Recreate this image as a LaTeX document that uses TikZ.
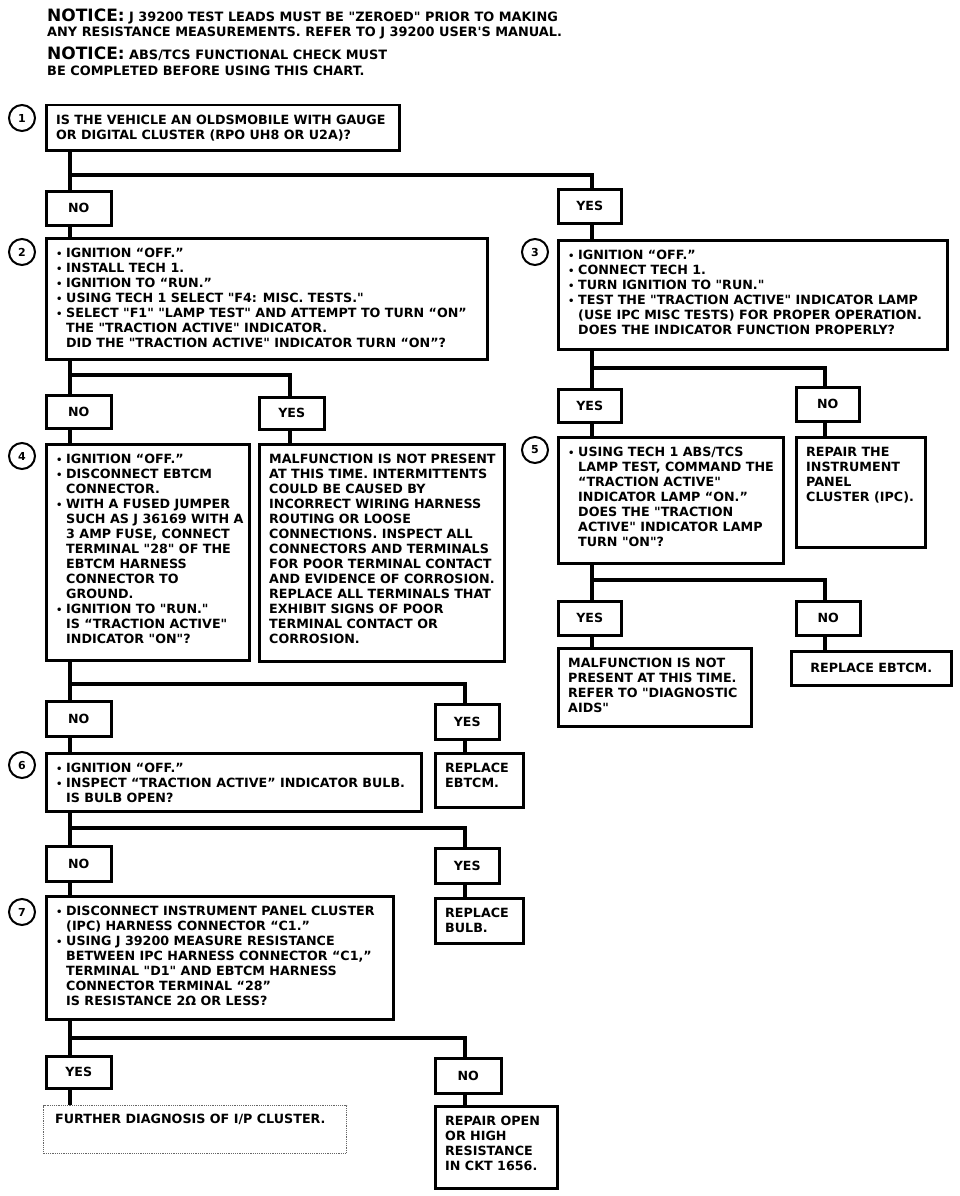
\documentclass[tikz,border=0pt]{standalone}
\usepackage{fontspec}
\newfontfamily\df{DejaVu Sans}
\newcommand{\bl}{\makebox[10pt][l]{\fontsize{10}{10}\selectfont\raisebox{0.5pt}{•}}}
\newcommand{\ii}{\hspace*{10pt}}
\tikzset{
  box/.style={draw, line width=2.5pt, inner sep=0pt, anchor=north west},
  dotbox/.style={draw=black!60, densely dotted, line width=1.2pt, inner sep=0pt, anchor=north west},
  txt/.style={anchor=north west, inner sep=0pt, align=left, font=\df\fontsize{12.7}{15}\selectfont\bfseries},
  lab/.style={draw, line width=2.5pt, inner sep=0pt, anchor=north west, font=\df\fontsize{12.6}{15}\selectfont\bfseries},
  num/.style={circle, draw, line width=2pt, minimum size=26pt, inner sep=0pt, font=\df\fontsize{11}{11}\selectfont\bfseries},
  conn/.style={line width=4pt},
  ntc/.style={anchor=base west, inner sep=0pt, font=\df\fontsize{12.9}{14}\selectfont\bfseries},
}
\newcommand{\bx}[6]{%
  \node[box, minimum width={(#4-#2)*1pt}, minimum height={(#5-#3)*1pt}] (#1) at (#2,#3) {};
  \node[txt] (#1t) at ([xshift=11pt,yshift=-11pt]#1.north west) {#6};}
\newcommand{\lb}[6]{%
  \node[lab, minimum width={(#4-#2)*1pt}, minimum height={(#5-#3)*1pt}] (#1) at (#2,#3) {#6};}
\begin{document}
\begin{tikzpicture}[x=1pt,y=-1pt]
\useasboundingbox[fill=white] (0,0) rectangle (960,1196);
% notices
\node[ntc] (n1) at (47,22) {{\fontsize{17}{17}\selectfont NOTICE:} J 39200 TEST LEADS MUST BE "ZEROED" PRIOR TO MAKING};
\node[ntc] (n2) at (47,37) {ANY RESISTANCE MEASUREMENTS. REFER TO J 39200 USER'S MANUAL.};
\node[ntc] (n3) at (47,60) {{\fontsize{17}{17}\selectfont NOTICE:} ABS/TCS FUNCTIONAL CHECK MUST};
\node[ntc] (n4) at (47,76) {BE COMPLETED BEFORE USING THIS CHART.};
% step numbers
\node[num] (c1) at (22,118) {1};
\node[num] (c2) at (22,252) {2};
\node[num] (c3) at (535,252) {3};
\node[num] (c4) at (22,456) {4};
\node[num] (c5) at (535,450) {5};
\node[num] (c6) at (22,765) {6};
\node[num] (c7) at (22,912) {7};
% boxes
\bx{b1}{45}{104}{398}{149}{IS THE VEHICLE AN OLDSMOBILE WITH GAUGE\\OR DIGITAL CLUSTER (RPO UH8 OR U2A)?}
\bx{b2}{45}{237}{486}{358}{\bl IGNITION “OFF.”\\\bl INSTALL TECH 1.\\\bl IGNITION TO “RUN.”\\\bl USING TECH 1 SELECT "F4: MISC. TESTS."\\\bl SELECT "F1" "LAMP TEST" AND ATTEMPT TO TURN “ON”\\\ii THE "TRACTION ACTIVE" INDICATOR.\\\ii DID THE "TRACTION ACTIVE" INDICATOR TURN “ON”?}
\bx{b3}{557}{239}{946}{348}{\bl IGNITION “OFF.”\\\bl CONNECT TECH 1.\\\bl TURN IGNITION TO "RUN."\\\bl TEST THE "TRACTION ACTIVE" INDICATOR LAMP\\\ii (USE IPC MISC TESTS) FOR PROPER OPERATION.\\\ii DOES THE INDICATOR FUNCTION PROPERLY?}
\bx{b4}{45}{443}{248}{659}{\bl IGNITION “OFF.”\\\bl DISCONNECT EBTCM\\\ii CONNECTOR.\\\bl WITH A FUSED JUMPER\\\ii SUCH AS J 36169 WITH A\\\ii 3 AMP FUSE, CONNECT\\\ii TERMINAL "28" OF THE\\\ii EBTCM HARNESS\\\ii CONNECTOR TO\\\ii GROUND.\\\bl IGNITION TO "RUN."\\\ii IS “TRACTION ACTIVE"\\\ii INDICATOR "ON"?}
\bx{m1}{258}{443}{503}{660}{MALFUNCTION IS NOT PRESENT\\AT THIS TIME. INTERMITTENTS\\COULD BE CAUSED BY\\INCORRECT WIRING HARNESS\\ROUTING OR LOOSE\\CONNECTIONS. INSPECT ALL\\CONNECTORS AND TERMINALS\\FOR POOR TERMINAL CONTACT\\AND EVIDENCE OF CORROSION.\\REPLACE ALL TERMINALS THAT\\EXHIBIT SIGNS OF POOR\\TERMINAL CONTACT OR\\CORROSION.}
\bx{b5}{557}{436}{782}{562}{\bl USING TECH 1 ABS/TCS\\\ii LAMP TEST, COMMAND THE\\\ii “TRACTION ACTIVE"\\\ii INDICATOR LAMP “ON.”\\\ii DOES THE "TRACTION\\\ii ACTIVE" INDICATOR LAMP\\\ii TURN "ON"?}
\bx{ipc}{795}{436}{924}{546}{REPAIR THE\\INSTRUMENT\\PANEL\\CLUSTER (IPC).}
\bx{m2}{557}{647}{750}{725}{MALFUNCTION IS NOT\\PRESENT AT THIS TIME.\\REFER TO "DIAGNOSTIC\\AIDS"}
\node[box, minimum width=160pt, minimum height=34pt] (r2) at (790,650) {};
\node[txt] (r2t) at (r2.center) [anchor=center] {REPLACE EBTCM.};
\bx{b6}{45}{752}{420}{810}{\bl IGNITION “OFF.”\\\bl INSPECT “TRACTION ACTIVE” INDICATOR BULB.\\\ii IS BULB OPEN?}
\bx{r1}{434}{752}{522}{806}{REPLACE\\EBTCM.}
\bx{b7}{45}{895}{392}{1018}{\bl DISCONNECT INSTRUMENT PANEL CLUSTER\\\ii (IPC) HARNESS CONNECTOR “C1.”\\\bl USING J 39200 MEASURE RESISTANCE\\\ii BETWEEN IPC HARNESS CONNECTOR “C1,”\\\ii TERMINAL "D1" AND EBTCM HARNESS\\\ii CONNECTOR TERMINAL “28”\\\ii IS RESISTANCE 2Ω OR LESS?}
\bx{bulb}{434}{897}{522}{942}{REPLACE\\BULB.}
\node[dotbox, minimum width=303pt, minimum height=48pt] (fd) at (43,1105) {};
\node[txt] (fdt) at ([xshift=12pt,yshift=-9pt]fd.north west) {FURTHER DIAGNOSIS OF I/P CLUSTER.};
\bx{rep}{434}{1105}{556}{1187}{REPAIR OPEN\\OR HIGH\\RESISTANCE\\IN CKT 1656.}
% labels
\lb{no1}{45}{190}{110}{224}{NO}
\lb{yes1}{557}{188}{620}{222}{YES}
\lb{no2}{45}{394}{110}{427}{NO}
\lb{yes2}{258}{396}{323}{428}{YES}
\lb{yes3}{557}{388}{620}{421}{YES}
\lb{no3}{795}{386}{858}{420}{NO}
\lb{no4}{45}{700}{110}{735}{NO}
\lb{yes4}{434}{703}{498}{738}{YES}
\lb{yes5}{557}{600}{620}{634}{YES}
\lb{no5}{795}{600}{859}{634}{NO}
\lb{no6}{45}{845}{110}{880}{NO}
\lb{yes6}{434}{847}{498}{882}{YES}
\lb{yes7}{45}{1055}{110}{1087}{YES}
\lb{no7}{434}{1057}{500}{1092}{NO}
% junctions
\coordinate (j1) at (70,175);  \coordinate (j1r) at (592,175);
\coordinate (j2) at (70,375);  \coordinate (j2r) at (290,375);
\coordinate (j3) at (592,368); \coordinate (j3r) at (825,368);
\coordinate (j4) at (70,684);  \coordinate (j4r) at (465,684);
\coordinate (j5) at (592,580); \coordinate (j5r) at (825,580);
\coordinate (j6) at (70,828);  \coordinate (j6r) at (465,828);
\coordinate (j7) at (70,1038); \coordinate (j7r) at (465,1038);
% connectors
\draw[conn] (b1.south -| j1) -- (no1.north -| j1);
\draw[conn] (j1) -- (j1r) -- (yes1.north -| j1r);
\draw[conn] (no1.south -| j1) -- (b2.north -| j1);
\draw[conn] (yes1.south -| j1r) -- (b3.north -| j1r);
\draw[conn] (b2.south -| j2) -- (no2.north -| j2);
\draw[conn] (j2) -- (j2r) -- (yes2.north -| j2r);
\draw[conn] (no2.south -| j2) -- (b4.north -| j2);
\draw[conn] (yes2.south -| j2r) -- (m1.north -| j2r);
\draw[conn] (b3.south -| j3) -- (yes3.north -| j3);
\draw[conn] (j3) -- (j3r) -- (no3.north -| j3r);
\draw[conn] (yes3.south -| j3) -- (b5.north -| j3);
\draw[conn] (no3.south -| j3r) -- (ipc.north -| j3r);
\draw[conn] (b4.south -| j4) -- (no4.north -| j4);
\draw[conn] (j4) -- (j4r) -- (yes4.north -| j4r);
\draw[conn] (no4.south -| j4) -- (b6.north -| j4);
\draw[conn] (yes4.south -| j4r) -- (r1.north -| j4r);
\draw[conn] (b5.south -| j5) -- (yes5.north -| j5);
\draw[conn] (j5) -- (j5r) -- (no5.north -| j5r);
\draw[conn] (yes5.south -| j5) -- (m2.north -| j5);
\draw[conn] (no5.south -| j5r) -- (r2.north -| j5r);
\draw[conn] (b6.south -| j6) -- (no6.north -| j6);
\draw[conn] (j6) -- (j6r) -- (yes6.north -| j6r);
\draw[conn] (no6.south -| j6) -- (b7.north -| j6);
\draw[conn] (yes6.south -| j6r) -- (bulb.north -| j6r);
\draw[conn] (b7.south -| j7) -- (yes7.north -| j7);
\draw[conn] (j7) -- (j7r) -- (no7.north -| j7r);
\draw[conn] (yes7.south -| j7) -- (fd.north -| j7);
\draw[conn] (no7.south -| j7r) -- (rep.north -| j7r);
\end{tikzpicture}
\end{document}
